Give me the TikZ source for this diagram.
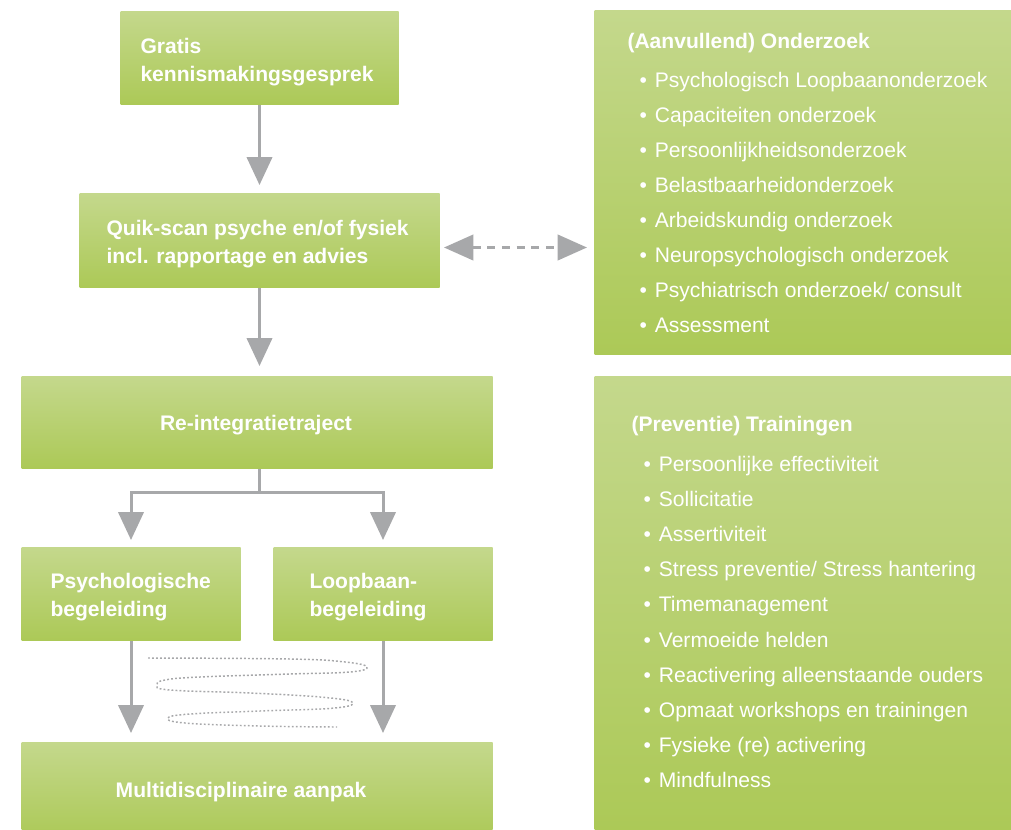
\documentclass[tikz,border=0pt]{standalone}
\usepackage{fontspec}
\setmainfont{Liberation Sans}
\usetikzlibrary{arrows.meta}

\definecolor{groenTop}{HTML}{C4D88C}
\definecolor{groenBodem}{HTML}{ACC957}
\definecolor{pijlGrijs}{HTML}{A7A8AA}

\tikzset{every picture/.style={line width=0.75pt}}
\tikzset{
  blok/.style={top color=groenTop, bottom color=groenBodem, draw=none, inner sep=0pt, anchor=north west},
  kop/.style={text=white, font=\bfseries\fontsize{15.8}{21}\selectfont, inner sep=0pt, anchor=base west, align=left},
  punt/.style={text=white, font=\fontsize{15.8}{18}\selectfont, inner sep=0pt, anchor=base west},
  pijl/.style={draw=pijlGrijs, line width=2.25pt, -{Triangle[width=19pt,length=21pt]}},
}

\begin{document}
\begin{tikzpicture}[x=0.75pt,y=0.75pt,yscale=-1,xscale=1]
\useasboundingbox (0,0) rectangle (1011,829);

%Shape: boxes left
\node[blok, minimum width=208.5pt, minimum height=69.75pt] (gratis) at (120,11) {};
\node[blok, minimum width=270pt, minimum height=70.5pt] (quik) at (79,193) {};
\node[blok, minimum width=353.25pt, minimum height=69pt] (reint) at (21,376) {};
\node[blok, minimum width=164.25pt, minimum height=69.75pt] (psych) at (21,547) {};
\node[blok, minimum width=164.25pt, minimum height=69.75pt] (loop) at (273,547) {};
\node[blok, minimum width=353.25pt, minimum height=72pt] (multi) at (21,742) {};
%Shape: boxes right
\node[blok, minimum width=312.75pt, minimum height=258pt] (onderzoek) at (594,10) {};
\node[blok, minimum width=312.75pt, minimum height=339.75pt] (trainingen) at (594,376) {};

% Text Node (base = last line)
\node[kop] (gratisTekst) at (140,81) {Gratis\\kennismakingsgesprek};
% Text Node
\node[kop] (quikTekst) at (106,263) {Quik-scan psyche en/of fysiek\\incl. rapportage en advies};
% Text Node
\node[kop, anchor=base] (reintTekst) at (256,430) {Re-integratietraject};
% Text Node
\node[kop] (psychTekst) at (50,616) {Psychologische\\begeleiding};
% Text Node
\node[kop] (loopTekst) at (309,616) {Loopbaan-\\begeleiding};
% Text Node
\node[kop, anchor=base] (multiTekst) at (241,797) {Multidisciplinaire aanpak};

% Text Node
\node[kop] (onderzoekKop) at (627,48) {(Aanvullend) Onderzoek};
\foreach \tekst [count=\i from 0] in {Psychologisch Loopbaanonderzoek, Capaciteiten onderzoek,
    Persoonlijkheidsonderzoek, Belastbaarheidonderzoek, Arbeidskundig onderzoek,
    Neuropsychologisch onderzoek, Psychiatrisch onderzoek/ consult, Assessment}
  \node[punt] (ond\i) at (639,{87+35.14*\i}) {\textbullet\hspace{6pt}\tekst};

% Text Node
\node[kop] (trainingenKop) at (631,431) {(Preventie) Trainingen};
\foreach \tekst [count=\i from 0] in {Persoonlijke effectiviteit, Sollicitatie, Assertiviteit,
    Stress preventie/ Stress hantering, Timemanagement, Vermoeide helden,
    Reactivering alleenstaande ouders, Opmaat workshops en trainingen,
    Fysieke (re) activering, Mindfulness}
  \node[punt] (tr\i) at (643,{471+35.2*\i}) {\textbullet\hspace{6pt}\tekst};

% Arrows
\draw[pijl, shorten >=6pt] (gratis.south) -- (quik.north);
\draw[pijl, shorten >=7.5pt] (quik.south) -- (quik.south |- reint.north);
\draw[pijl, shorten >=5.25pt] (quik.south |- reint.south) -- ++(0,23) -| (psych.north);
\draw[pijl, shorten >=5.25pt] (quik.south |- reint.south) -- ++(0,23) -| (loop.north);
\draw[pijl, shorten >=6.75pt] (psych.south) -- (psych.south |- multi.north);
\draw[pijl, shorten >=6.75pt] (loop.south) -- (loop.south |- multi.north);
\draw[draw=pijlGrijs, line width=2.25pt, dash pattern=on 6pt off 5pt,
  {Triangle[width=19pt,length=22pt]}-{Triangle[width=19pt,length=22pt]},
  shorten <=3pt, shorten >=5.25pt]
  ([yshift=5.25pt]quik.east) -- ([yshift=5.25pt]quik.east -| onderzoek.west);

%Shape: dotted spiral
\draw[pijlGrijs, line width=1.1pt, dash pattern=on 1.4pt off 1.6pt]
  plot[smooth, tension=0.7] coordinates {(148,658) (290,659) (345,662) (367,667) (350,672)
  (290,674) (200,677) (165,680) (157,685) (170,690) (250,693) (320,697) (352,702)
  (335,708) (260,711) (190,714) (168,718) (185,723) (260,726) (337,727)};

\end{tikzpicture}
\end{document}
